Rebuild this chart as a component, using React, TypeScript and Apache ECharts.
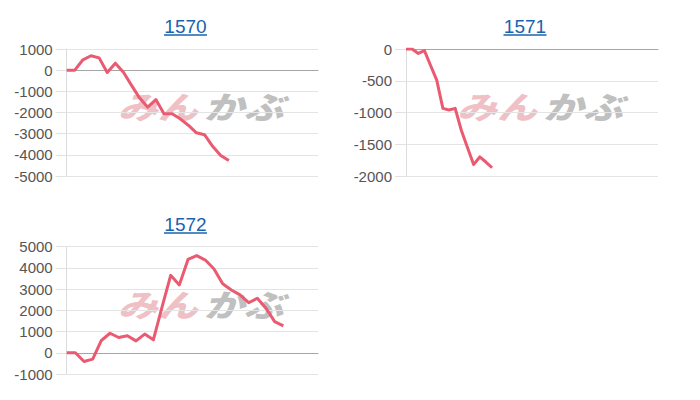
import React, { useEffect, useRef } from "react";
import * as echarts from "echarts";

const titles = ["1570", "1571", "1572"];

const categories1570 = Array.from({ length: 32 }, (_, i) => String(i + 1));
const categories1571 = Array.from({ length: 42 }, (_, i) => String(i + 1));
const categories1572 = Array.from({ length: 30 }, (_, i) => String(i + 1));

const values1570 = [0, 0, 490, 680, 580, -110, 330, -100, -720, -1320, -1750, -1390, -2060, -2060, -2300, -2600, -2960, -3050, -3600, -4030, -4270];
const values1571 = [0, 0, -70, -25, -260, -490, -935, -960, -935, -1280, -1550, -1820, -1700, -1780, -1870];
const values1572 = [0, 0, -410, -300, 580, 920, 720, 800, 560, 880, 610, 2150, 3650, 3200, 4400, 4580, 4370, 3950, 3250, 2960, 2730, 2360, 2570, 2100, 1470, 1270];

const yMin = [-5000, -2000, -1000];
const yMax = [1000, 0, 5000];
const yStep = [1000, 500, 1000];

const grids = [
  { left: 66.7, top: 49, width: 251.3, height: 127 },
  { left: 406, top: 49, width: 252, height: 127 },
  { left: 66.7, top: 246.7, width: 251.3, height: 127.3 },
];

const FONT = "'Liberation Sans', Arial, sans-serif";
const LINE = "#ea5a70";

export default function App() {
  const ref = useRef<HTMLDivElement>(null);
  useEffect(() => {
    if (!ref.current) return;
    const chart = echarts.init(ref.current, undefined, { renderer: "svg" });
    const cats = [categories1570, categories1571, categories1572];
    const vals = [values1570, values1571, values1572];
    const titleX = [185.5, 525, 185.5];
    const titleY = [26, 26, 224];

    const graphics: any[] = [];
    grids.forEach((g, i) => {
      graphics.push({
        type: "text",
        x: titleX[i],
        y: titleY[i],
        z: 10,
        style: {
          text: titles[i],
          fill: "#1a63ad",
          font: `19px ${FONT}`,
          textAlign: "center",
          textVerticalAlign: "middle",
        },
      });
      graphics.push({
        type: "line",
        z: 10,
        shape: { x1: titleX[i] - 21.5, y1: titleY[i] + 9, x2: titleX[i] + 21.5, y2: titleY[i] + 9 },
        style: { stroke: "#1a63ad", lineWidth: 1.5 },
      });
      const cx = g.left + 134;
      const cy = g.top + 56;
      graphics.push({
        type: "group",
        x: cx,
        y: cy,
        z: -1,
        scaleY: 0.78,
        children: [
          {
            type: "text",
            x: -3,
            y: 0,
            style: {
              text: "みん",
              fill: "rgba(226,140,148,0.55)",
              font: `italic 900 40px 'Noto Sans CJK JP'`,
              textAlign: "right",
              textVerticalAlign: "middle",
            },
          },
          {
            type: "text",
            x: 3,
            y: 0,
            style: {
              text: "かぶ",
              fill: "rgba(150,150,150,0.6)",
              font: `italic 900 40px 'Noto Sans CJK JP'`,
              textAlign: "left",
              textVerticalAlign: "middle",
            },
          },
        ],
      });
    });

    chart.setOption({
      animation: false,
      grid: grids.map((g) => ({ ...g, containLabel: false })),
      xAxis: grids.map((_, i) => ({
        type: "category",
        gridIndex: i,
        data: cats[i],
        boundaryGap: false,
        axisLine: { show: true, onZero: true, lineStyle: { color: "#a6a6a6", width: 1 } },
        axisTick: { show: false },
        axisLabel: { show: false },
        splitLine: { show: false },
      })),
      yAxis: grids.map((_, i) => ({
        type: "value",
        gridIndex: i,
        min: yMin[i],
        max: yMax[i],
        interval: yStep[i],
        axisLine: { show: true, lineStyle: { color: "#dcdcdc" } },
        axisTick: { show: true, length: 11, lineStyle: { color: "#e2e2e2" } },
        axisLabel: {
          margin: 14,
          color: "#555",
          fontSize: 15,
          fontFamily: FONT,
          formatter: (v: number) => String(v),
        },
        splitLine: { show: true, lineStyle: { color: "#e4e4e4" } },
      })),
      series: vals.map((v, i) => ({
        type: "line",
        xAxisIndex: i,
        yAxisIndex: i,
        data: v,
        symbol: "none",
        z: 5,
        lineStyle: { color: LINE, width: 3, join: "round" },
        itemStyle: { color: LINE },
      })),
      graphic: graphics,
    });
    return () => chart.dispose();
  }, []);
  return (
    <div
      ref={ref}
      style={{ position: "fixed", left: 0, top: 0, width: 700, height: 400, background: "#fff" }}
    />
  );
}
